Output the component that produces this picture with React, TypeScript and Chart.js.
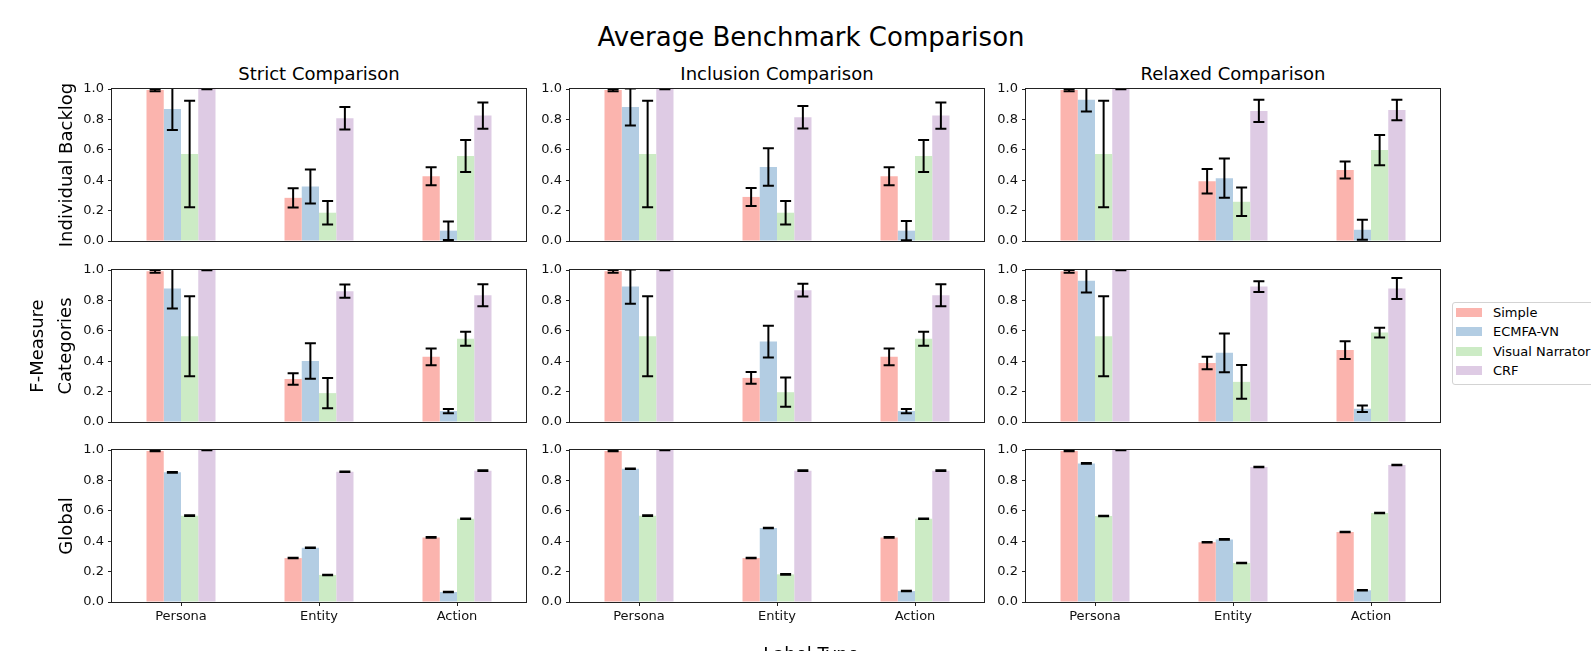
import React, { useEffect, useRef } from "react";
import { Chart, registerables } from "chart.js";
Chart.register(...registerables);

// ---------- data ----------
const categories = ["Persona", "Entity", "Action"];
const seriesNames = ["Simple", "ECMFA-VN", "Visual Narrator", "CRF"];
const seriesColors = ["#fbb4ae", "#b3cde3", "#ccebc5", "#decbe4"];
const yTicks = [0, 0.2, 0.4, 0.6, 0.8, 1.0];
const comparisonTitles = ["Strict Comparison", "Inclusion Comparison", "Relaxed Comparison"];
const rowLabels = [["Individual Backlog"], ["F-Measure", "Categories"], ["Global"]];

// rows of each array: Simple, ECMFA-VN, Visual Narrator, CRF ; columns: Persona, Entity, Action
const strictBacklog = [[0.993, 0.284, 0.426], [0.869, 0.358, 0.068], [0.572, 0.186, 0.559], [1.0, 0.808, 0.825]];
const strictBacklogErr = [[0.007, 0.063, 0.059], [0.138, 0.112, 0.061], [0.35, 0.077, 0.105], [0.0, 0.074, 0.086]];
const inclusionBacklog = [[0.993, 0.29, 0.426], [0.882, 0.487, 0.068], [0.572, 0.186, 0.559], [1.0, 0.814, 0.825]];
const inclusionBacklogErr = [[0.007, 0.059, 0.059], [0.122, 0.123, 0.063], [0.35, 0.077, 0.105], [0.0, 0.074, 0.086]];
const relaxedBacklog = [[0.993, 0.393, 0.467], [0.93, 0.413, 0.074], [0.572, 0.258, 0.598], [1.0, 0.856, 0.862]];
const relaxedBacklogErr = [[0.007, 0.08, 0.056], [0.078, 0.129, 0.066], [0.35, 0.094, 0.099], [0.0, 0.073, 0.068]];

const strictCategories = [[0.991, 0.283, 0.429], [0.878, 0.401, 0.072], [0.564, 0.19, 0.547], [1.0, 0.861, 0.834]];
const strictCategoriesErr = [[0.009, 0.038, 0.055], [0.131, 0.117, 0.014], [0.263, 0.1, 0.046], [0.0, 0.043, 0.073]];
const inclusionCategories = [[0.991, 0.29, 0.429], [0.891, 0.529, 0.072], [0.564, 0.196, 0.547], [1.0, 0.867, 0.834]];
const inclusionCategoriesErr = [[0.009, 0.039, 0.055], [0.113, 0.105, 0.014], [0.263, 0.096, 0.046], [0.0, 0.042, 0.073]];
const relaxedCategories = [[0.991, 0.388, 0.473], [0.93, 0.455, 0.087], [0.564, 0.264, 0.588], [1.0, 0.891, 0.878]];
const relaxedCategoriesErr = [[0.009, 0.041, 0.059], [0.078, 0.127, 0.022], [0.263, 0.111, 0.032], [0.0, 0.035, 0.069]];

const strictGlobal = [[0.993, 0.289, 0.425], [0.853, 0.357, 0.066], [0.568, 0.178, 0.548], [1.0, 0.857, 0.864]];
const inclusionGlobal = [[0.993, 0.289, 0.425], [0.877, 0.487, 0.072], [0.568, 0.182, 0.548], [1.0, 0.864, 0.864]];
const relaxedGlobal = [[0.993, 0.393, 0.461], [0.912, 0.412, 0.077], [0.566, 0.257, 0.586], [1.0, 0.888, 0.901]];
const globalErr = [[0, 0, 0], [0, 0, 0], [0, 0, 0], [0, 0, 0]];

const panelMeans = [
  [strictBacklog, inclusionBacklog, relaxedBacklog],
  [strictCategories, inclusionCategories, relaxedCategories],
  [strictGlobal, inclusionGlobal, relaxedGlobal],
];
const panelErrs = [
  [strictBacklogErr, inclusionBacklogErr, relaxedBacklogErr],
  [strictCategoriesErr, inclusionCategoriesErr, relaxedCategoriesErr],
  [globalErr, globalErr, globalErr],
];

// ---------- layout ----------
const FONT = "'DejaVu Sans', 'Liberation Sans', sans-serif";
const COL_LEFT = [112, 570, 1026];
const ROW_TOP = [89, 270, 450];
const AX_W = 414;
const AX_H = 152;

const errorBarPlugin = {
  id: "errorBars",
  afterDatasetsDraw(chart: any) {
    const { ctx, chartArea, scales } = chart;
    const y = scales.y;
    ctx.save();
    ctx.beginPath();
    ctx.rect(chartArea.left, chartArea.top - 0.5, chartArea.right - chartArea.left, chartArea.bottom - chartArea.top + 1);
    ctx.clip();
    ctx.strokeStyle = "#000";
    chart.data.datasets.forEach((ds: any, i: number) => {
      const meta = chart.getDatasetMeta(i);
      meta.data.forEach((bar: any, j: number) => {
        const v = ds.data[j];
        const e = ds.errorBars[j];
        const x = bar.x;
        const yt = y.getPixelForValue(v + e);
        const yb = y.getPixelForValue(v - e);
        ctx.lineWidth = e > 0 ? 2 : 2.6;
        ctx.beginPath();
        if (e > 0) {
          ctx.moveTo(x, yt);
          ctx.lineTo(x, yb);
        }
        ctx.moveTo(x - 5.5, yt);
        ctx.lineTo(x + 5.5, yt);
        ctx.moveTo(x - 5.5, yb);
        ctx.lineTo(x + 5.5, yb);
        ctx.stroke();
      });
    });
    ctx.restore();
  },
};

const framePlugin = {
  id: "frame",
  afterDraw(chart: any) {
    const { ctx, chartArea } = chart;
    ctx.save();
    ctx.strokeStyle = "#222";
    ctx.lineWidth = 1;
    const l = Math.round(chartArea.left) - 0.5;
    const t = Math.round(chartArea.top) - 0.5;
    const r = Math.round(chartArea.right) + 0.5;
    const b = Math.round(chartArea.bottom) + 0.5;
    ctx.strokeRect(l, t, r - l, b - t);
    ctx.restore();
  },
};

function Panel({ row, col }: { row: number; col: number }) {
  const ref = useRef<HTMLCanvasElement>(null);
  const L = col === 0 ? COL_LEFT[0] : 44;
  const T = 16;
  const R = 6;
  const showX = row === 2;
  const B = showX ? 30 : 16;
  const w = L + AX_W + R;
  const h = T + AX_H + B;

  useEffect(() => {
    const means = panelMeans[row][col];
    const errs = panelErrs[row][col];
    const label = rowLabels[row];
    const multi = label.length > 1;
    const chart = new Chart(ref.current as HTMLCanvasElement, {
      type: "bar",
      data: {
        labels: categories,
        datasets: seriesNames.map((n, i) => ({
          label: n,
          data: means[i],
          errorBars: errs[i],
          backgroundColor: seriesColors[i],
          borderWidth: 0,
          barPercentage: 1,
          categoryPercentage: 0.5,
        })) as any,
      },
      options: {
        responsive: false,
        maintainAspectRatio: false,
        animation: false,
        devicePixelRatio: 1,
        layout: { padding: { left: 0, top: T, right: R, bottom: 0 } },
        plugins: { legend: { display: false }, tooltip: { enabled: false }, title: { display: false } },
        scales: {
          x: {
            type: "category",
            offset: true,
            grid: { display: showX, drawOnChartArea: false, drawTicks: showX, tickLength: 4, offset: false, color: "#222" },
            border: { display: false },
            ticks: { display: showX, color: "#111", padding: 3, font: { family: FONT, size: 13 } },
            afterFit: (s: any) => {
              s.height = B;
            },
          },
          y: {
            type: "linear",
            min: 0,
            max: 1,
            afterBuildTicks: (s: any) => {
              s.ticks = yTicks.map((v) => ({ value: v }));
            },
            grid: { display: true, drawOnChartArea: false, drawTicks: true, tickLength: 4, color: "#222" },
            border: { display: false },
            ticks: {
              color: "#111",
              padding: 4,
              font: { family: FONT, size: 13 },
              callback: (v: any) => Number(v).toFixed(1),
            },
            title: {
              display: col === 0,
              text: label,
              color: "#000",
              font: { family: FONT, size: 18, lineHeight: multi ? 1.52 : 1.2 },
              padding: { top: multi ? 24.9 : 56.2, bottom: 0 },
            },
            afterFit: (s: any) => {
              s.width = L;
            },
          },
        },
      } as any,
      plugins: [errorBarPlugin, framePlugin],
    });
    return () => chart.destroy();
  }, []);

  return (
    <canvas
      ref={ref}
      width={w}
      height={h}
      style={{ position: "absolute", left: COL_LEFT[col] - L, top: ROW_TOP[row] - T, width: w, height: h }}
    />
  );
}

function CText({ x, y, size, children }: { x: number; y: number; size: number; children: any }) {
  return (
    <div
      style={{
        position: "absolute",
        left: x,
        top: y,
        transform: "translate(-50%, -50%)",
        fontSize: size,
        lineHeight: 1,
        whiteSpace: "nowrap",
        color: "#000",
        fontFamily: FONT,
      }}
    >
      {children}
    </div>
  );
}

export default function App() {
  const legendYs = [312, 331.5, 351, 370.5];
  return (
    <div
      style={{
        position: "absolute",
        left: 0,
        top: 0,
        width: 1591,
        height: 651,
        overflow: "hidden",
        background: "#fff",
        fontFamily: FONT,
      }}
    >
      <CText x={811} y={36.5} size={26}>
        Average Benchmark Comparison
      </CText>
      {comparisonTitles.map((t, c) => (
        <CText key={t} x={COL_LEFT[c] + AX_W / 2} y={74} size={18}>
          {t}
        </CText>
      ))}
      {[0, 1, 2].map((r) => [0, 1, 2].map((c) => <Panel key={r + "-" + c} row={r} col={c} />))}
      <div
        style={{
          position: "absolute",
          left: 811,
          top: 645,
          transform: "translateX(-50%)",
          fontSize: 18,
          lineHeight: "18px",
          whiteSpace: "nowrap",
          fontFamily: FONT,
        }}
      >
        Label Type
      </div>
      <div
        style={{
          position: "absolute",
          left: 1452,
          top: 302,
          width: 160,
          height: 81,
          border: "1px solid #d3d3d3",
          borderRadius: 3,
          background: "rgba(255,255,255,0.8)",
        }}
      />
      {seriesNames.map((n, i) => (
        <React.Fragment key={n}>
          <div
            style={{
              position: "absolute",
              left: 1456,
              top: legendYs[i] - 4.5,
              width: 26,
              height: 9,
              background: seriesColors[i],
            }}
          />
          <div
            style={{
              position: "absolute",
              left: 1493,
              top: legendYs[i] - 6.5,
              fontSize: 13,
              lineHeight: "13px",
              whiteSpace: "nowrap",
              fontFamily: FONT,
            }}
          >
            {n}
          </div>
        </React.Fragment>
      ))}
    </div>
  );
}
